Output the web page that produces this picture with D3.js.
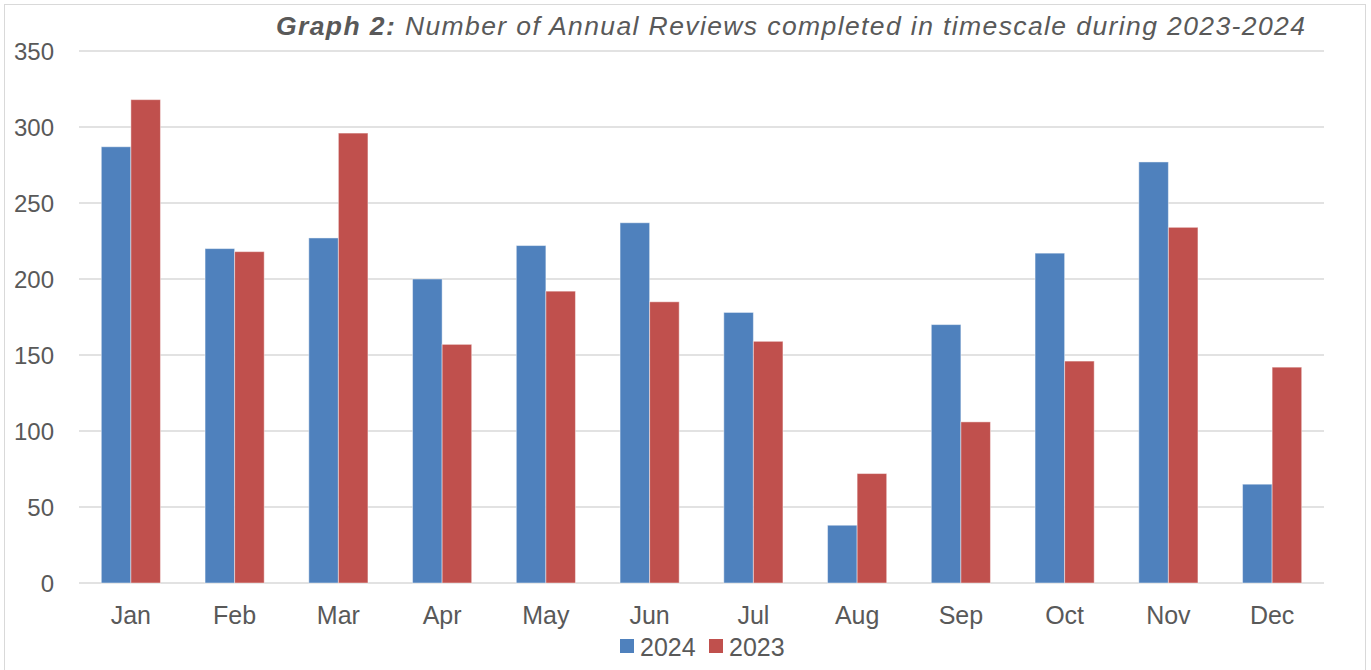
<!DOCTYPE html>
<html><head><meta charset="utf-8">
<script src="https://cdn.jsdelivr.net/npm/d3@7"></script>
<style>body{margin:0;background:#fff}svg{display:block}text{font-family:"Liberation Sans",Arial,sans-serif;fill:#595959}</style>
</head><body>
<script>
const months = ["Jan","Feb","Mar","Apr","May","Jun","Jul","Aug","Sep","Oct","Nov","Dec"];
const values2024 = [287,220,227,200,222,237,178,38,170,217,277,65];
const values2023 = [318,218,296,157,192,185,159,72,106,146,234,142];
const seriesNames = ["2024","2023"];
const yTicks = [0,50,100,150,200,250,300,350];

const W=1371,H=670;
const m={left:79,right:1324,top:51,bottom:583};
const colors={"2024":"#4F81BD","2023":"#C0504D"};
const svg=d3.select("body").append("svg").attr("width",W).attr("height",H);
svg.append("rect").attr("x",4.5).attr("y",4.5).attr("width",1361).attr("height",700)
  .attr("fill","#fff").attr("stroke","#D9D9D9").attr("stroke-width",1);

const x=d3.scaleBand().domain(months).range([m.left,m.right]);
const y=d3.scaleLinear().domain([0,350]).range([m.bottom,m.top]);

svg.append("g").selectAll("line").data(yTicks).join("line")
  .attr("x1",m.left).attr("x2",m.right).attr("y1",d=>y(d)).attr("y2",d=>y(d))
  .attr("stroke","#D9D9D9").attr("stroke-width",1.5);

svg.append("g").selectAll("text").data(yTicks).join("text")
  .attr("x",54).attr("y",d=>y(d)+8.5).attr("text-anchor","end").attr("font-size",24).text(d=>d);

const bw=x.bandwidth()*0.285;
const data=months.map((mo,i)=>({mo,v:[values2024[i],values2023[i]]}));
const g=svg.append("g");
data.forEach(d=>{
  d.v.forEach((v,j)=>{
    const cx=x(d.mo)+x.bandwidth()/2;
    g.append("rect").attr("x",cx-bw+j*bw).attr("y",y(v)).attr("width",bw).attr("height",y(0)-y(v))
     .attr("fill",colors[seriesNames[j]]).attr("stroke","rgba(255,255,255,0.45)").attr("stroke-width",1);
  });
});

svg.append("g").selectAll("text").data(months).join("text")
  .attr("x",d=>x(d)+x.bandwidth()/2).attr("y",624).attr("text-anchor","middle").attr("font-size",25).text(d=>d);

// legend
const leg=svg.append("g");
const legX=[620,709];
seriesNames.forEach((s,i)=>{
  leg.append("rect").attr("x",legX[i]).attr("y",639).attr("width",14).attr("height",14).attr("fill",colors[s]);
  leg.append("text").attr("x",legX[i]+20).attr("y",656).attr("font-size",25).text(s);
});

const t=svg.append("text").attr("x",276).attr("y",35).attr("font-size",26.5).attr("font-style","italic")
  .attr("textLength",1029).attr("lengthAdjust","spacing");
t.append("tspan").attr("font-weight","bold").text("Graph 2:");
t.append("tspan").text(" Number of Annual Reviews completed in timescale during 2023-2024");
</script>
</body></html>
